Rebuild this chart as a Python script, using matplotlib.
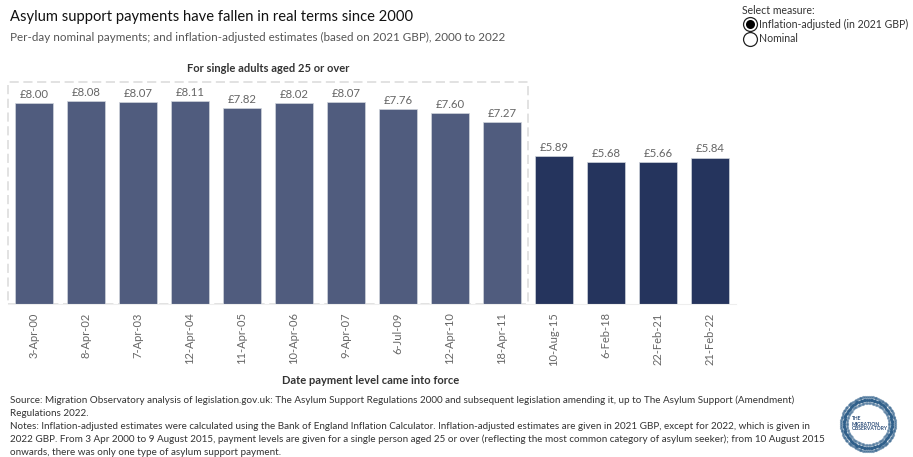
import numpy as np
import matplotlib
matplotlib.use('Agg')
import matplotlib.pyplot as plt
from matplotlib.patches import Rectangle

plt.rcParams['font.family'] = ['Lato', 'DejaVu Sans']

# Data
dates = ['3-Apr-00', '8-Apr-02', '7-Apr-03', '12-Apr-04', '11-Apr-05', '10-Apr-06', '9-Apr-07',
         '6-Jul-09', '12-Apr-10', '18-Apr-11', '10-Aug-15', '6-Feb-18', '22-Feb-21', '21-Feb-22']
values = [8.00, 8.08, 8.07, 8.11, 7.82, 8.02, 8.07, 7.76, 7.60, 7.27, 5.89, 5.68, 5.66, 5.84]
n_single_adult = 10

light = '#505c7e'
dark = '#25345d'

W, H = 913, 457
fig = plt.figure(figsize=(W / 100, H / 100), dpi=100)

def fx(px):
    return px / W

def fy(py):
    return 1 - py / H

# Plot area: x 8..736, y 82..304
ax = fig.add_axes([fx(8), fy(304), fx(736 - 8), (304 - 82) / H])
x = np.arange(len(values))
colors = [light if i < n_single_adult else dark for i in x]
ax.bar(x, values, width=0.74, color=colors, edgecolor='#d0d4dc', linewidth=0.5, zorder=2)
ytop = 8.85
ax.set_xlim(-0.5, len(values) - 0.5)
ax.set_ylim(0, ytop)

for xi, v in zip(x, values):
    ax.text(xi, v + 0.12, '£%.2f' % v, ha='center', va='bottom', fontsize=8.2, color='#666666')

# dashed box around single-adult period
ax.add_patch(Rectangle((-0.5, 0), n_single_adult, ytop, fill=False, edgecolor='#dadada',
                       linestyle=(0, (6, 3)), linewidth=1.1, clip_on=False, zorder=1))

ax.set_xticks(x)
ax.set_xticklabels(dates, rotation=90, fontsize=8, color='#666666')
ax.tick_params(axis='x', length=0, pad=6)
ax.set_yticks([])
for s in ['top', 'right', 'left']:
    ax.spines[s].set_visible(False)
ax.spines['bottom'].set_color('#eeeeee')

# Titles
fig.text(fx(10), fy(17), 'Asylum support payments have fallen in real terms since 2000',
         fontsize=10.6, color='#111111', va='center', ha='left')
fig.text(fx(10), fy(37), 'Per-day nominal payments; and inflation-adjusted estimates (based on 2021 GBP), 2000 to 2022',
         fontsize=8.4, color='#555555', va='center', ha='left')
fig.text(fx(268), fy(68), 'For single adults aged 25 or over', fontsize=8, fontweight='bold',
         color='#333333', va='center', ha='center')
fig.text(fx(371), fy(380), 'Date payment level came into force', fontsize=8, fontweight='bold',
         color='#333333', va='center', ha='center')

# Measure selector
fig.text(fx(742), fy(10), 'Select measure:', fontsize=7.6, color='#333333', va='center', ha='left')
fig.text(fx(759), fy(24), 'Inflation-adjusted (in 2021 GBP)', fontsize=7.6, color='#333333', va='center', ha='left')
fig.text(fx(759), fy(39), 'Nominal', fontsize=7.6, color='#333333', va='center', ha='left')
for py, filled in [(24, True), (39, False)]:
    fig.add_artist(plt.Line2D([fx(750)], [fy(py)], transform=fig.transFigure, marker='o', markersize=10,
                              markerfacecolor='white', markeredgecolor='#222222', markeredgewidth=0.9,
                              linestyle='none'))
    if filled:
        fig.add_artist(plt.Line2D([fx(750)], [fy(py)], transform=fig.transFigure, marker='o', markersize=6.5,
                                  markerfacecolor='black', markeredgecolor='none', linestyle='none'))

# Footnotes
notes = [
    'Source: Migration Observatory analysis of legislation.gov.uk: The Asylum Support Regulations 2000 and subsequent legislation amending it, up to The Asylum Support (Amendment)',
    'Regulations 2022.',
    'Notes: Inflation-adjusted estimates were calculated using the Bank of England Inflation Calculator. Inflation-adjusted estimates are given in 2021 GBP, except for 2022, which is given in',
    '2022 GBP. From 3 Apr 2000 to 9 August 2015, payment levels are given for a single person aged 25 or over (reflecting the most common category of asylum seeker); from 10 August 2015',
    'onwards, there was only one type of asylum support payment.',
]
for i, line in enumerate(notes):
    fig.text(fx(10), fy(400 + i * 13.2), line, fontsize=7.1, color='#333333', va='center', ha='left')

# Logo
lx, ly = fx(868), fy(424)
ang = np.linspace(0, 2 * np.pi, 90, endpoint=False)
for r, a in [(24, 0.9), (27, 0.5), (21, 0.35)]:
    fig.add_artist(plt.Line2D(lx + r * np.cos(ang) / W, ly + r * np.sin(ang) / H, transform=fig.transFigure,
                              linestyle='none', marker='o', markersize=1.3, color='#2f5f8a', alpha=a))
fig.text(lx - 16 / W, ly, 'THE\nMIGRATION\nOBSERVATORY', fontsize=3.6, fontweight='bold', color='#2f4f7a',
         va='center', ha='left', linespacing=1.0)

fig.savefig('out.png', dpi=100)
